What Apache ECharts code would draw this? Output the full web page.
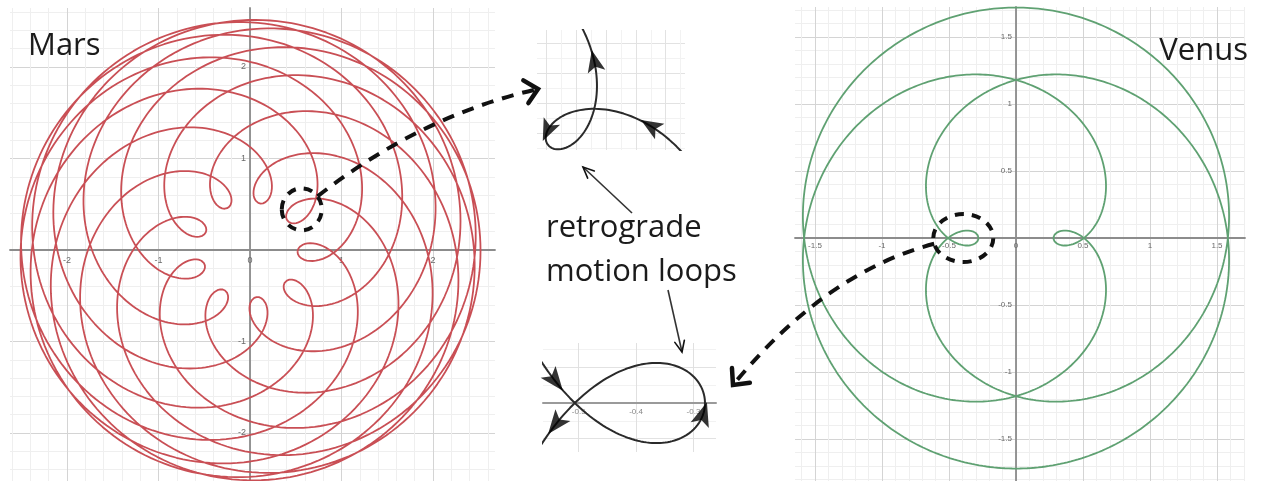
<!DOCTYPE html>
<html>
<head>
<meta charset="utf-8">
<script src="https://cdn.jsdelivr.net/npm/echarts@6/dist/echarts.min.js"></script>
<style>
  html, body { margin: 0; padding: 0; background: #ffffff; }
  #chart { width: 1261px; height: 481px; }
</style>
</head>
<body>
<div id="chart"></div>
<script>
// ---- Orbit parameters (AU, years); paths are seen from Earth ----
const planetNames    = ['Mars', 'Venus'];
const orbitRadii     = [1.52, 0.72];
const orbitPeriods   = [1.9, 0.6];
const earthOrbit     = [1.0, 1.0];      // radius, period
const spanYears      = [19, 3];         // time covered by each path
const startAngleDeg  = [-2, 0];         // common heliocentric longitude at t = 0
const stepYears      = [0.007, 0.002];

// ---- Zoomed retrograde loops ----
const loopIndex      = [1, 0];          // which opposition / inferior conjunction is magnified
const loopHalfSpan   = [0.21, 0.12];    // years from loop tip to loop crossing
const loopWindow     = [0.36, 0.145];   // half window (years) drawn in the close-ups
const loopArrowTimes = [[-0.3, -0.07, 0.285], [-0.132, -0.012, 0.132]];

// ---- Axis extents ----
const marsX  = [-2.623, 2.678], marsY  = [-2.525, 2.645], marsStep  = 1;
const venusX = [-1.649, 1.709], venusY = [-1.813, 1.724], venusStep = 0.5;
const zoomMarsX  = [0.336, 1.3293],   zoomMarsY  = [0.2865, 1.0919];
const zoomVenusX = [-0.5622, -0.2608], zoomVenusY = [-0.0686, 0.084];

const captionLines = ['retrograde', 'motion loops'];

const DEG = Math.PI / 180;

function geocentric(i, t) {
  const a0 = startAngleDeg[i] * DEG;
  const ap = a0 + 2 * Math.PI * t / orbitPeriods[i];
  const ae = a0 + 2 * Math.PI * t / earthOrbit[1];
  return [orbitRadii[i] * Math.cos(ap) - earthOrbit[0] * Math.cos(ae),
          orbitRadii[i] * Math.sin(ap) - earthOrbit[0] * Math.sin(ae)];
}
function track(i, t0, t1, dt) {
  const n = Math.max(1, Math.round((t1 - t0) / dt));
  const pts = [];
  for (let k = 0; k <= n; k++) pts.push(geocentric(i, t0 + (t1 - t0) * k / n));
  return pts;
}
function synodic(i) {
  return 1 / Math.abs(1 / earthOrbit[1] - 1 / orbitPeriods[i]);
}
const loopTime = [0, 1].map(i => loopIndex[i] * synodic(i));

const marsPath  = track(0, 0, spanYears[0], stepYears[0]);
const venusPath = track(1, 0, spanYears[1], stepYears[1]);
const marsLoop  = track(0, loopTime[0] - loopWindow[0], loopTime[0] + loopWindow[0], 0.003);
const venusLoop = track(1, loopTime[1] - loopWindow[1], loopTime[1] + loopWindow[1], 0.001);

// ---- grid boxes ----
const grids = [
  { left: 10,  top: 8,   width: 485, height: 473 },
  { left: 795, top: 7,   width: 450, height: 474 },
  { left: 537, top: 30,  width: 148, height: 120 },
  { left: 543, top: 343, width: 173, height: 109 }
];
// distance (px) from the low edge of an axis to its zero
function zeroDistance(ext, sizePx) {
  return (0 - ext[0]) / (ext[1] - ext[0]) * sizePx;
}

// ---- axis builders: axes cross at the origin, like a graphing calculator ----
function planeAxis(dim, gi, ext, otherExt, step, fontSize, margin, hideZero) {
  const g = grids[gi];
  const off = dim === 'x' ? -zeroDistance(otherExt, g.height) : -zeroDistance(otherExt, g.width);
  return {
    type: 'value', gridIndex: gi, min: ext[0], max: ext[1],
    position: dim === 'x' ? 'bottom' : 'left', offset: off,
    minInterval: step, maxInterval: step, splitNumber: 6,
    axisLine: { show: true, onZero: false, lineStyle: { color: '#8c8c8c', width: 1.8 } },
    axisTick: { show: false },
    minorTick: { show: false, splitNumber: 5 },
    axisLabel: {
      fontSize: fontSize, color: '#6a6a6a', margin: margin, fontFamily: 'Liberation Sans',
      showMinLabel: false, showMaxLabel: false, hideOverlap: false,
      formatter: v => (hideZero && v === 0) ? '' : String(v)
    },
    splitLine: { show: true, showMinLine: false, showMaxLine: false,
                 lineStyle: { color: '#d4d4d4', width: 1 } },
    minorSplitLine: { show: true, lineStyle: { color: '#efefef', width: 1 } }
  };
}
function faintAxis(gi, ext, step) {
  return {
    type: 'value', gridIndex: gi, min: ext[0], max: ext[1],
    minInterval: step, maxInterval: step,
    axisLine: { show: false }, axisTick: { show: false }, axisLabel: { show: false },
    splitLine: { show: true, showMinLine: false, showMaxLine: false,
                 lineStyle: { color: '#e2e2e2', width: 1 } },
    minorTick: { show: false, splitNumber: 2 },
    minorSplitLine: { show: true, lineStyle: { color: '#f2f2f2', width: 1 } }
  };
}

const zoomVenusXAxis = planeAxis('x', 3, zoomVenusX, zoomVenusY, 0.1, 8, 5, false);
zoomVenusXAxis.axisLine.lineStyle = { color: '#9a9a9a', width: 2 };
zoomVenusXAxis.splitLine.lineStyle = { color: '#e0e0e0', width: 1 };
zoomVenusXAxis.minorSplitLine.show = false;
zoomVenusXAxis.axisLabel.color = '#888';

const arrowSymbol = 'path://M0,0L22,9L0,18L5,9Z';

const option = {
  animation: false,
  backgroundColor: '#ffffff',
  grid: grids.map(g => Object.assign({ outerBoundsMode: 'none', containLabel: false }, g)),
  xAxis: [
    planeAxis('x', 0, marsX, marsY, marsStep, 9, 6, false),
    planeAxis('x', 1, venusX, venusY, venusStep, 8, 4, false),
    faintAxis(2, zoomMarsX, 0.2),
    zoomVenusXAxis
  ],
  yAxis: [
    planeAxis('y', 0, marsY, marsX, marsStep, 9, 4, true),
    planeAxis('y', 1, venusY, venusX, venusStep, 8, 4, true),
    faintAxis(2, zoomMarsY, 0.2),
    faintAxis(3, zoomVenusY, 0.05)
  ],
  series: [
    { name: planetNames[0], type: 'line', xAxisIndex: 0, yAxisIndex: 0, data: marsPath,
      showSymbol: false, symbol: 'none', lineStyle: { color: '#c94f55', width: 1.8 } },
    { name: planetNames[1], type: 'line', xAxisIndex: 1, yAxisIndex: 1, data: venusPath,
      showSymbol: false, symbol: 'none', lineStyle: { color: '#5fa172', width: 1.8 } },
    { name: 'Mars loop', type: 'line', xAxisIndex: 2, yAxisIndex: 2, data: marsLoop,
      showSymbol: false, symbol: 'none', lineStyle: { color: '#2a2a2a', width: 2 } },
    { name: 'Venus loop', type: 'line', xAxisIndex: 3, yAxisIndex: 3, data: venusLoop,
      showSymbol: false, symbol: 'none', lineStyle: { color: '#2a2a2a', width: 2 } },
    { name: 'Mars arrows', type: 'scatter', xAxisIndex: 2, yAxisIndex: 2, data: [],
      symbol: arrowSymbol, symbolSize: [22, 18], itemStyle: { color: '#000' }, z: 5 },
    { name: 'Venus arrows', type: 'scatter', xAxisIndex: 3, yAxisIndex: 3, data: [],
      symbol: arrowSymbol, symbolSize: [24, 19], itemStyle: { color: '#000' }, z: 5 }
  ]
};

const chart = echarts.init(document.getElementById('chart'));
chart.setOption(option);

// ---- direction arrows along the magnified loops ----
function arrowData(i, gi) {
  return loopArrowTimes[i].map(dt => {
    const t = loopTime[i] + dt;
    const p = geocentric(i, t);
    const a = chart.convertToPixel({ gridIndex: gi }, geocentric(i, t - 0.004));
    const b = chart.convertToPixel({ gridIndex: gi }, geocentric(i, t + 0.004));
    const ang = Math.atan2(-(b[1] - a[1]), b[0] - a[0]) / DEG;
    return { value: p, symbolRotate: ang };
  });
}

// ---- dashed rings around the magnified loops, and pointers to the close-ups ----
function loopCentrePx(i, gi) {
  const tip = geocentric(i, loopTime[i]);
  const cross = geocentric(i, loopTime[i] + loopHalfSpan[i]);
  return chart.convertToPixel({ gridIndex: gi }, [(tip[0] + cross[0]) / 2, (tip[1] + cross[1]) / 2]);
}
function chevron(tip, from, len, spread, width) {
  const ang = Math.atan2(tip[1] - from[1], tip[0] - from[0]);
  const p1 = [tip[0] - len * Math.cos(ang - spread), tip[1] - len * Math.sin(ang - spread)];
  const p2 = [tip[0] - len * Math.cos(ang + spread), tip[1] - len * Math.sin(ang + spread)];
  return { type: 'polyline', z: 100, shape: { points: [p1, tip, p2] },
           style: { stroke: '#111', lineWidth: width, fill: null, lineJoin: 'miter', lineCap: 'round' } };
}
function dashedPointer(centre, rx, ry, ctrl, end) {
  const dx = ctrl[0] - centre[0], dy = ctrl[1] - centre[1];
  const L = Math.hypot(dx, dy);
  const start = [centre[0] + rx * dx / L, centre[1] + ry * dy / L];
  return [
    { type: 'ellipse', z: 100, shape: { cx: centre[0], cy: centre[1], rx: rx, ry: ry },
      style: { fill: null, stroke: '#111', lineWidth: 4, lineDash: [9, 8] } },
    { type: 'bezierCurve', z: 100,
      shape: { x1: start[0], y1: start[1], cpx1: ctrl[0], cpy1: ctrl[1], x2: end[0], y2: end[1] },
      style: { fill: null, stroke: '#111', lineWidth: 4, lineDash: [12, 9] } },
    chevron(end, ctrl, 17, 0.75, 4.5)
  ];
}
function thinArrow(from, to) {
  return [
    { type: 'line', z: 100, shape: { x1: from[0], y1: from[1], x2: to[0], y2: to[1] },
      style: { stroke: '#333', lineWidth: 1.6 } },
    chevron(to, from, 12, 0.42, 1.6)
  ];
}
function label(text, x, y, align) {
  return { type: 'text', z: 100, x: x, y: y,
           style: { text: text, font: '31px "Open Sans"', fill: '#1b1b1b',
                    align: align, verticalAlign: 'middle',
                    textAlign: align, textVerticalAlign: 'middle' } };
}

const marsCentre = loopCentrePx(0, 0);
const venusCentre = loopCentrePx(1, 1);

const graphics = [].concat(
  [label(planetNames[0], 28, 46, 'left'),
   label(planetNames[1], 1248, 51, 'right'),
   label(captionLines[0], 546, 228, 'left'),
   label(captionLines[1], 546, 272, 'left')],
  dashedPointer(marsCentre, 20, 21, [422, 115], [538, 89]),
  dashedPointer(venusCentre, 30, 24, [826, 272], [733, 385]),
  thinArrow([632, 213], [583, 167]),
  thinArrow([668, 290], [682, 352])
);

chart.setOption({
  series: [{}, {}, {}, {}, { data: arrowData(0, 2) }, { data: arrowData(1, 3) }],
  graphic: { elements: graphics }
});
</script>
</body>
</html>
